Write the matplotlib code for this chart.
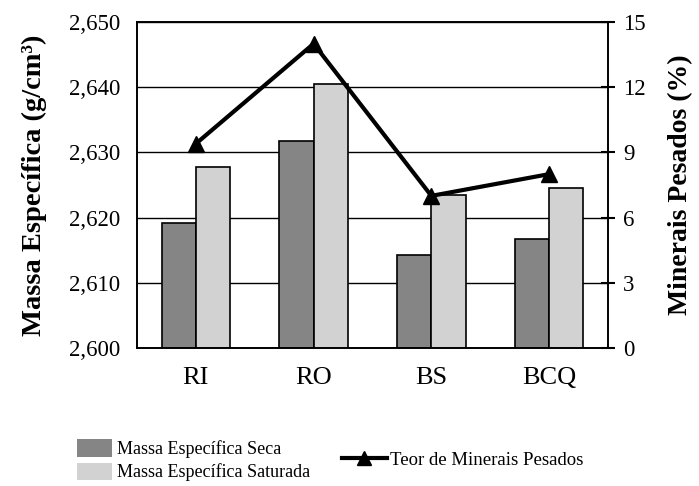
import matplotlib
matplotlib.use("Agg")
import matplotlib.pyplot as plt
import numpy as np
from matplotlib.lines import Line2D
from matplotlib.patches import Patch

categories = ["RI", "RO", "BS", "BCQ"]
seca = [2.6192, 2.6318, 2.6143, 2.6167]
saturada = [2.6278, 2.6405, 2.6235, 2.6245]
teor = [9.4, 14.0, 7.0, 8.0]
left_ticks = [2.600, 2.610, 2.620, 2.630, 2.640, 2.650]
left_labels = ["2,600", "2,610", "2,620", "2,630", "2,640", "2,650"]
right_ticks = [0, 3, 6, 9, 12, 15]

plt.rcParams['font.family'] = ['Liberation Serif', 'DejaVu Serif']

fig = plt.figure(figsize=(6.99, 4.86), dpi=100)
ax = fig.add_axes([137/699, 1-348/486, (608-137)/699, (348-22)/486])

x = np.arange(len(categories))
w = 0.29
ax.set_axisbelow(True)
ax.bar(x - w/2, seca, w, color="#858585", edgecolor="black", linewidth=1.2, zorder=2)
ax.bar(x + w/2, saturada, w, color="#d2d2d2", edgecolor="black", linewidth=1.2, zorder=2)
ax.set_ylim(2.600, 2.650)
ax.set_xlim(-0.5, 3.5)
ax.set_yticks(left_ticks)
ax.set_yticklabels(left_labels, fontsize=16.5)
ax.tick_params(axis='y', length=0, pad=12)
ax.set_xticks(x)
ax.set_xticklabels(categories, fontsize=19)
ax.tick_params(axis='x', length=0, pad=14)
ax.yaxis.grid(True, color="black", linewidth=1.0)
for s in ax.spines.values():
    s.set_linewidth(1.2)
ax.set_ylabel("Massa Específica (g/cm³)", fontsize=20.5, fontweight='bold', labelpad=16)

ax2 = ax.twinx()
ax2.plot(x, teor, color="black", linewidth=3, marker="^", markersize=11, zorder=5)
ax2.set_ylim(0, 15)
ax2.set_yticks(right_ticks)
ax2.set_yticklabels([str(t) for t in right_ticks], fontsize=16.5)
ax2.tick_params(axis='y', direction='inout', length=10, width=1.5, pad=6)
ax2.set_ylabel("Minerais Pesados (%)", fontsize=20, fontweight='bold', labelpad=16)
for s in ax2.spines.values():
    s.set_linewidth(1.2)

leg1 = fig.legend(handles=[Patch(facecolor="#858585", edgecolor="none"),
                           Patch(facecolor="#d2d2d2", edgecolor="none")],
                  labels=["Massa Específica Seca", "Massa Específica Saturada"],
                  loc="upper left", bbox_to_anchor=(70/699, 1-432/486), frameon=False,
                  fontsize=13, handlelength=1.9, handleheight=1.1, labelspacing=0.25,
                  handletextpad=0.3, borderaxespad=0)
leg2 = fig.legend(handles=[Line2D([0], [0], color="black", linewidth=3, marker="^", markersize=10)],
                  labels=["Teor de Minerais Pesados"],
                  loc="upper left", bbox_to_anchor=(334/699, 1-444/486), frameon=False,
                  fontsize=13.5, handlelength=2.4, handletextpad=0.2, borderaxespad=0)

fig.savefig("out.png", dpi=100)
